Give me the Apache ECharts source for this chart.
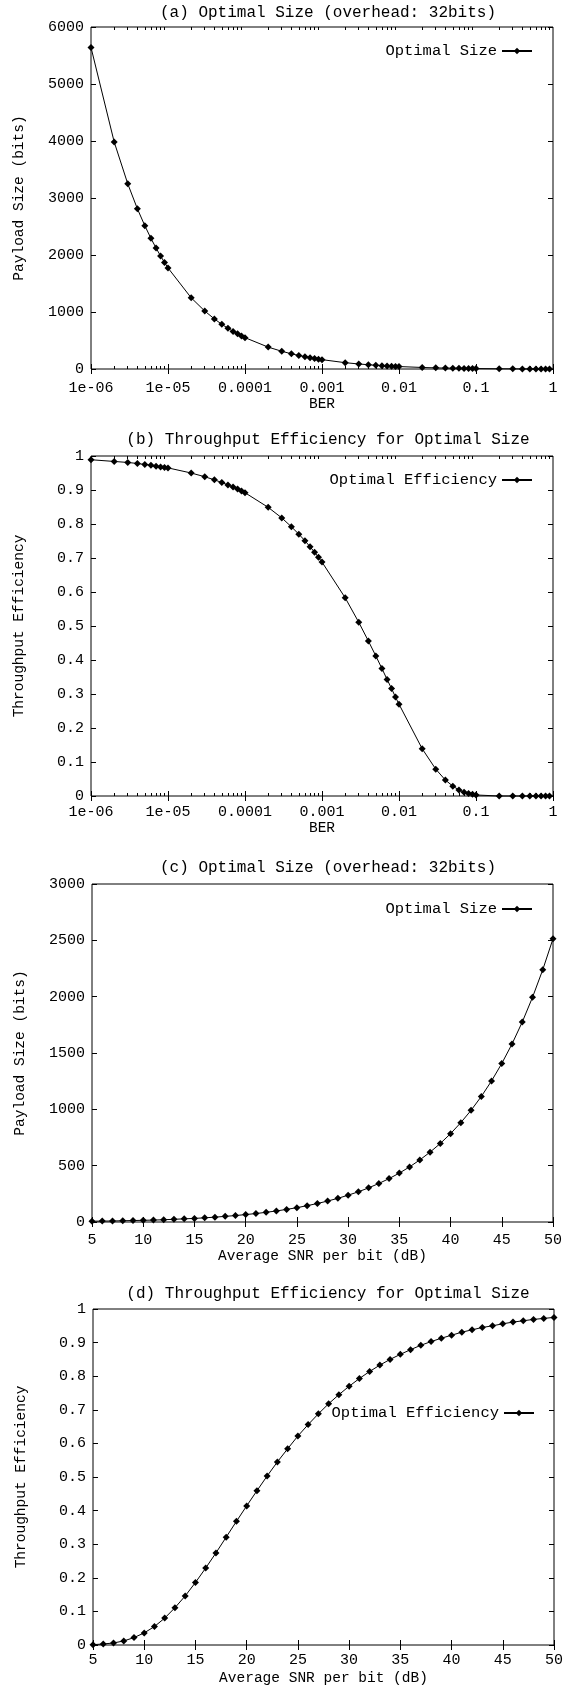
<!DOCTYPE html>
<html>
<head>
<meta charset="utf-8">
<script src="https://cdn.jsdelivr.net/npm/echarts@6/dist/echarts.min.js"></script>
<style>
html,body{margin:0;padding:0;background:#fff;}
#chart{width:572px;height:1687px;}
</style>
</head>
<body>
<div id="chart"></div>
<script>
// ---------- DATA ----------
const berValues = [
  1e-6,2e-6,3e-6,4e-6,5e-6,6e-6,7e-6,8e-6,9e-6,
  1e-5,2e-5,3e-5,4e-5,5e-5,6e-5,7e-5,8e-5,9e-5,
  1e-4,2e-4,3e-4,4e-4,5e-4,6e-4,7e-4,8e-4,9e-4,
  1e-3,2e-3,3e-3,4e-3,5e-3,6e-3,7e-3,8e-3,9e-3,
  0.01,0.02,0.03,0.04,0.05,0.06,0.07,0.08,0.09,
  0.1,0.2,0.3,0.4,0.5,0.6,0.7,0.8,0.9
];
const optSizeBer = [
  5641,3984,3250,2812,2514,2293,2122,1984,1870,
  1773,1249,1017,879,784,714,660,617,580,
  550,384,311,267,237,215,198,185,173,
  164,111,88,75,65,59,53,49,46,
  43,27,20,16,14,12,10,9,8,
  8,4,2.6,1.9,1.4,1.1,0.8,0.6,0.5
];
const optEffBer = [
  0.989,0.984,0.981,0.978,0.975,0.973,0.970,0.968,0.966,
  0.965,0.950,0.939,0.930,0.922,0.915,0.909,0.903,0.897,
  0.892,0.849,0.818,0.792,0.770,0.751,0.733,0.717,0.702,
  0.688,0.583,0.511,0.456,0.412,0.375,0.343,0.316,0.291,
  0.270,0.139,0.079,0.047,0.029,0.018,0.011,0.007,0.005,
  0.003,0,0,0,0,0,0,0,0
];
const snrValues = [
  5,6,7,8,9,10,11,12,13,14,
  15,16,17,18,19,20,21,22,23,24,
  25,26,27,28,29,30,31,32,33,34,
  35,36,37,38,39,40,41,42,43,44,
  45,46,47,48,49,50
];
const optSizeSnr = [
  7,8,9,11,13,15,17,20,24,28,
  32,37,43,50,57,66,75,86,98,112,
  127,145,164,186,210,238,268,303,342,385,
  434,489,551,620,697,784,882,991,1114,1252,
  1407,1580,1775,1994,2239,2514
];
const optEffSnr = [
  0.001,0.003,0.006,0.012,0.022,0.036,0.055,0.080,0.111,0.146,
  0.186,0.229,0.274,0.321,0.368,0.414,0.459,0.503,0.545,0.584,
  0.622,0.656,0.688,0.718,0.745,0.770,0.793,0.814,0.833,0.850,
  0.865,0.879,0.892,0.903,0.913,0.922,0.931,0.938,0.945,0.950,
  0.956,0.961,0.965,0.969,0.972,0.975
];
const berTickValues = [1e-6,1e-5,1e-4,1e-3,1e-2,1e-1,1];
const berTickLabels = ['1e-06','1e-05','0.0001','0.001','0.01','0.1','1'];
const titles = [
  '(a) Optimal Size (overhead: 32bits)',
  '(b) Throughput Efficiency for Optimal Size',
  '(c) Optimal Size (overhead: 32bits)',
  '(d) Throughput Efficiency for Optimal Size'
];
const seriesNames = ['Optimal Size','Optimal Efficiency','Optimal Size','Optimal Efficiency'];
const xNames = ['BER','BER','Average SNR per bit (dB)','Average SNR per bit (dB)'];
const yNames = ['Payload Size (bits)','Throughput Efficiency','Payload Size (bits)','Throughput Efficiency'];

// ---------- LAYOUT ----------
const FONT = '"Liberation Mono","Courier New",monospace';
const grids = [
  {left:91, top:27,   width:462, height:342},
  {left:91, top:456,  width:462, height:340},
  {left:92, top:884,  width:461, height:338},
  {left:93, top:1309, width:461, height:341}
];
const yRanges = [
  {min:0,max:6000,interval:1000},
  {min:0,max:1,interval:0.1},
  {min:0,max:3000,interval:500},
  {min:0,max:1,interval:0.1}
];
const titleY = [13, 440, 868, 1294];
const legendTop = [38, 467, 896, 1400];
const legendRight = [34, 34, 34, 32];
const xLabelMargin = [12, 9, 11, 8];
const xNameGap = [28, 25, 26, 26];

const minorBer = [];
for (let e = -6; e < 0; e++) for (let m = 2; m <= 9; m++) minorBer.push(m * Math.pow(10, e));

const xAxes = [], yAxes = [], series = [], legends = [], graphics = [];
const plainNum = v => String(Math.round(v * 1000) / 1000);

grids.forEach((g, i) => {
  const isLog = i < 2;
  const xBase = isLog
    ? {type:'log', logBase:10, min:1e-6, max:1}
    : {type:'value', min:5, max:50, interval:5};
  xAxes.push(Object.assign({}, xBase, {
    gridIndex:i, position:'bottom',
    name:xNames[i], nameLocation:'middle', nameGap:xNameGap[i],
    nameTextStyle:{color:'#000', fontFamily:FONT, fontSize:14.5},
    axisLine:{show:false},
    axisTick:Object.assign({show:true, inside:true, length:5, lineStyle:{color:'#000'}},
      isLog ? {customValues:berTickValues} : {}),
    axisLabel:Object.assign({show:true, margin:xLabelMargin[i], color:'#000', fontFamily:FONT, fontSize:15,
      hideOverlap:false, showMinLabel:true, showMaxLabel:true},
      isLog ? {customValues:berTickValues,
               formatter:v => berTickLabels[Math.round(Math.log10(v)) + 6]}
            : {formatter:plainNum}),
    splitLine:{show:false}
  }));
  xAxes.push(Object.assign({}, xBase, {
    gridIndex:i, position:'top',
    axisLine:{show:false},
    axisTick:Object.assign({show:true, inside:true, length:5, lineStyle:{color:'#000'}},
      isLog ? {customValues:berTickValues} : {}),
    axisLabel:{show:false}, splitLine:{show:false}
  }));
  if (isLog) {
    ['bottom','top'].forEach(pos => {
      xAxes.push(Object.assign({}, xBase, {
        gridIndex:i, position:pos,
        axisLine:{show:false},
        axisTick:{show:true, inside:true, length:3, customValues:minorBer, lineStyle:{color:'#000'}},
        axisLabel:{show:false}, splitLine:{show:false}
      }));
    });
  }
  const primaryX = xAxes.length - (isLog ? 4 : 2);

  const yr = yRanges[i];
  yAxes.push({
    type:'value', gridIndex:i, position:'left', min:yr.min, max:yr.max, interval:yr.interval,
    name:yNames[i], nameLocation:'middle', nameGap:64,
    nameTextStyle:{color:'#000', fontFamily:FONT, fontSize:14.5},
    axisLine:{show:false},
    axisTick:{show:true, inside:true, length:5, lineStyle:{color:'#000'}},
    axisLabel:{show:true, margin:7, color:'#000', fontFamily:FONT, fontSize:15, formatter:plainNum},
    splitLine:{show:false}
  });
  yAxes.push({
    type:'value', gridIndex:i, position:'right', min:yr.min, max:yr.max, interval:yr.interval,
    axisLine:{show:false},
    axisTick:{show:true, inside:true, length:5, lineStyle:{color:'#000'}},
    axisLabel:{show:false}, splitLine:{show:false}
  });
  const primaryY = yAxes.length - 2;

  const xs = isLog ? berValues : snrValues;
  const ys = [optSizeBer, optEffBer, optSizeSnr, optEffSnr][i];
  series.push({
    type:'line', name:seriesNames[i], xAxisIndex:primaryX, yAxisIndex:primaryY,
    data: xs.map((x, k) => [x, ys[k]]),
    symbol:'diamond', symbolSize:7, showSymbol:true,
    lineStyle:{color:'#000', width:1}, itemStyle:{color:'#000'},
    animation:false, clip:false, z:3
  });

  legends.push({
    data:[seriesNames[i]], right:legendRight[i], top:legendTop[i], align:'right', orient:'horizontal',
    itemWidth:30, itemHeight:8, selectedMode:false,
    textStyle:{color:'#000', fontFamily:FONT, fontSize:15.5}
  });

  graphics.push({
    type:'text', x:328, y:titleY[i],
    style:{text:titles[i], textAlign:'center', textVerticalAlign:'middle',
           font:'16px "Liberation Mono","Courier New",monospace', fill:'#000'}
  });
});

const chart = echarts.init(document.getElementById('chart'), null, {renderer:'canvas'});
chart.setOption({
  backgroundColor:'#fff',
  animation:false,
  grid: grids.map(g => Object.assign({show:true, borderColor:'#000', borderWidth:1, backgroundColor:'transparent', containLabel:false}, g)),
  xAxis: xAxes,
  yAxis: yAxes,
  legend: legends,
  series: series,
  graphic: graphics
});
</script>
</body>
</html>
